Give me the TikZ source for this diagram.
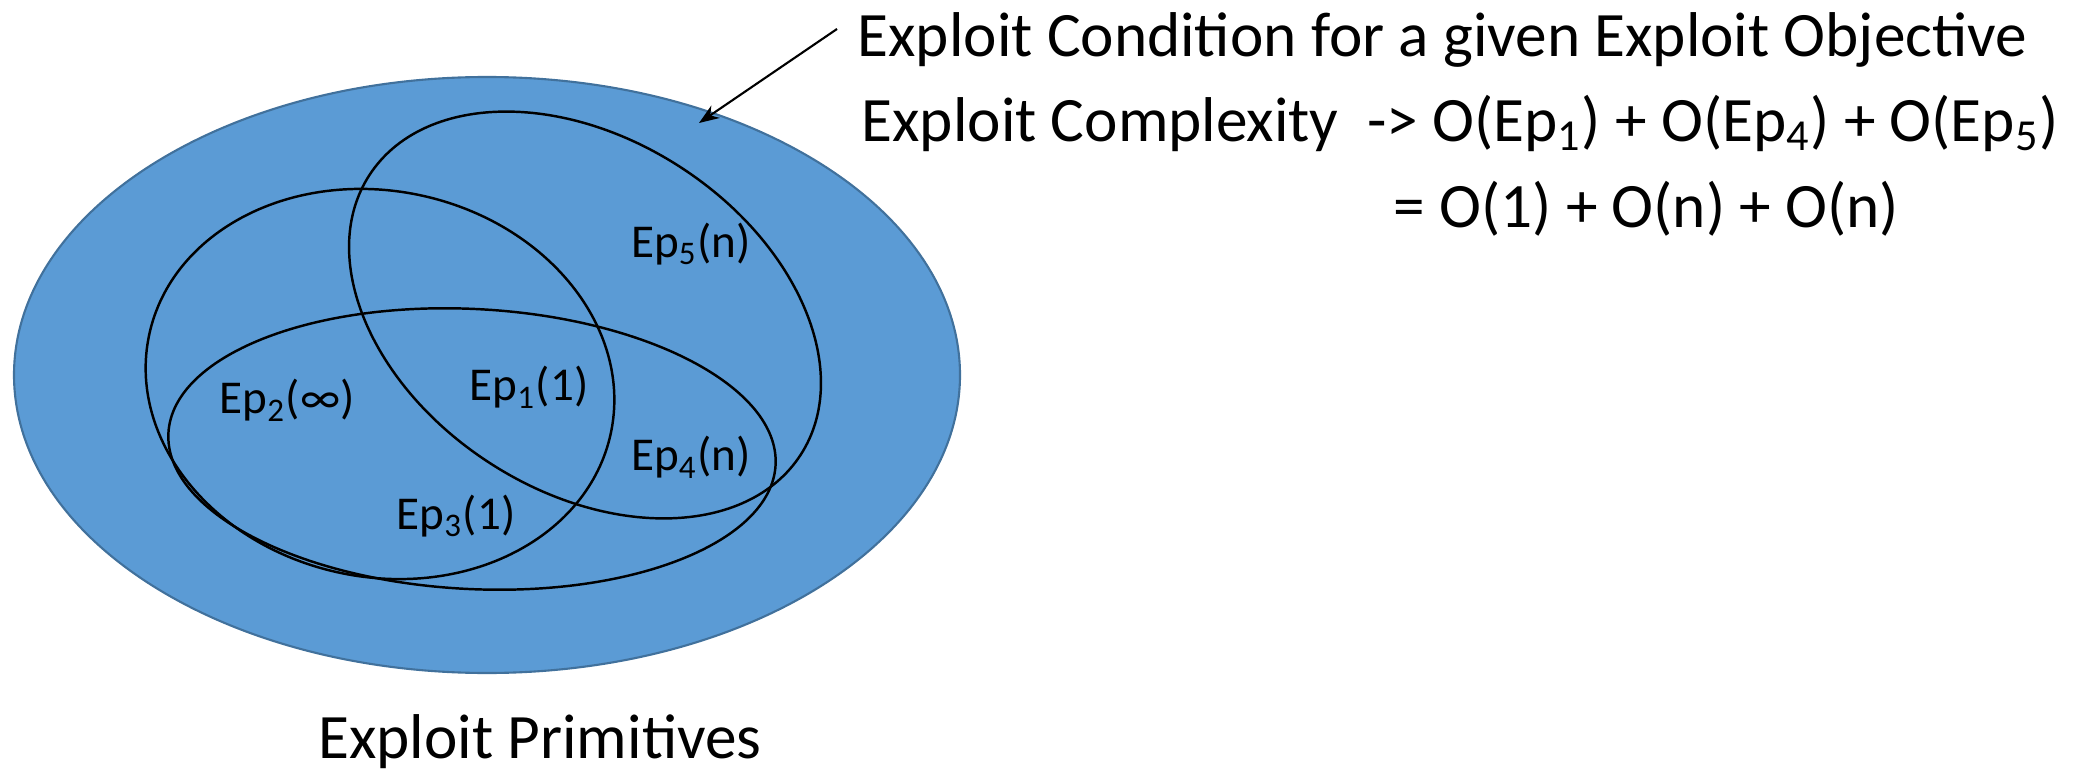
\documentclass[tikz,border=0pt]{standalone}
\usepackage{fontspec}
\setmainfont{Carlito}
\usetikzlibrary{arrows.meta}
\definecolor{primblue}{HTML}{5B9BD5}
\definecolor{primedge}{HTML}{41719C}

\begin{document}
\begin{tikzpicture}[
    every node/.style={inner sep=0pt},
    bigtext/.style={font=\fontsize{18}{21}\selectfont},
    eplabel/.style={font=\fontsize{13.4}{16}\selectfont},
    epset/.style={draw=black, line width=0.7pt},
    >=Stealth,
  ]
  \useasboundingbox (0,0) rectangle (20.9,-7.71);

  % exploit primitives
  \draw[fill=primblue, draw=primedge, line width=0.6pt]
    (4.87,-3.75) ellipse [x radius=4.73, y radius=2.98];
  \draw[epset] (3.80,-3.84) ellipse [x radius=2.36, y radius=1.93, rotate=-12];
  \draw[epset] (4.72,-4.49) ellipse [x radius=3.04, y radius=1.40, rotate=-3];
  \draw[epset] (5.85,-3.15) ellipse [x radius=2.57, y radius=1.76, rotate=-33];

  \node[eplabel] (ep5) at (6.91,-2.44) {Ep\textsubscript{5}(n)};
  \node[eplabel] (ep1) at (5.29,-3.87) {Ep\textsubscript{1}(1)};
  \node[eplabel] (ep2) at (2.87,-4.00) {Ep\textsubscript{2}(∞)};
  \node[eplabel] (ep4) at (6.91,-4.57) {Ep\textsubscript{4}(n)};
  \node[eplabel] (ep3) at (4.56,-5.16) {Ep\textsubscript{3}(1)};

  \node[bigtext] (prim) at (5.40,-7.42) {Exploit Primitives};

  % condition and complexity
  \node[bigtext, anchor=west] (cond) at (8.57,-0.40)
    {Exploit Condition for a given Exploit Objective};
  \node[bigtext, anchor=west] (cplx) at (8.61,-1.23)
    {Exploit Complexity\ \ -> O(Ep\textsubscript{1}) + O(Ep\textsubscript{4}) + O(Ep\textsubscript{5})};
  \node[bigtext, anchor=west] (eq) at (13.93,-2.09)
    {= O(1) + O(n) + O(n)};

  \coordinate (tail) at (8.37,-0.29);
  \coordinate (tip) at (6.99,-1.23);
  \draw[->, line width=0.6pt] (tail) -- (tip);
\end{tikzpicture}
\end{document}
